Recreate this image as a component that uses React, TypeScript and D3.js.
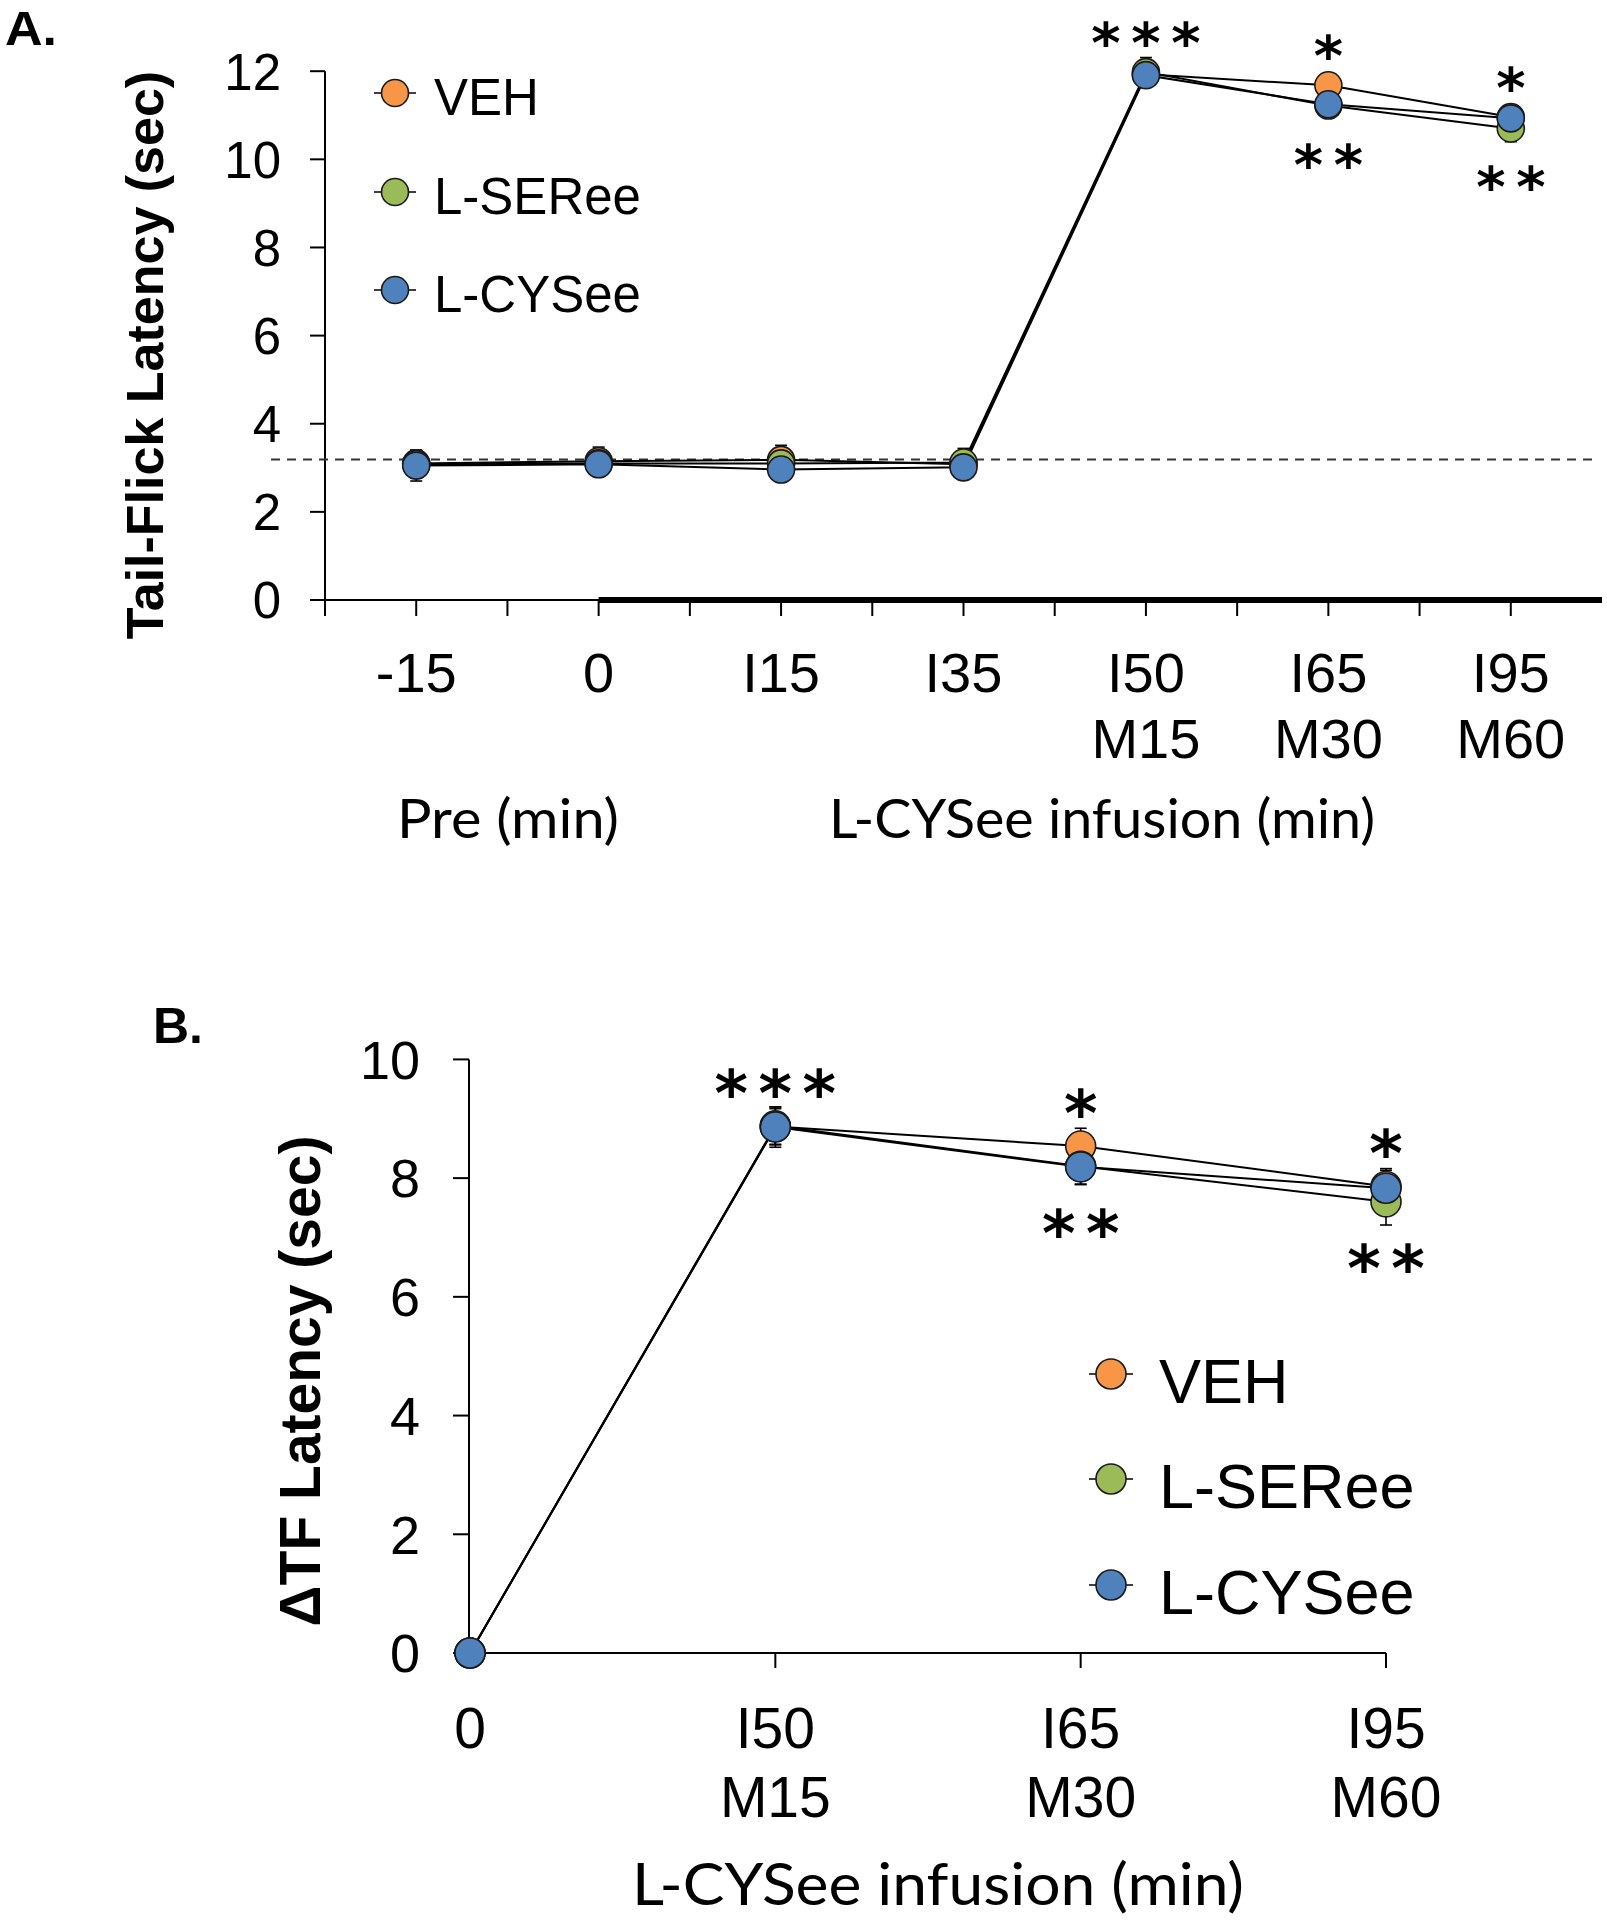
import React from 'react';
import * as d3 from 'd3';

const W = 1607;
const H = 1920;

// ---------- shared ----------
const seriesNames = ['VEH', 'L-SERee', 'L-CYSee'];
const seriesColors = ['#F79646', '#9BBB59', '#4F81BD'];

// ---------- Panel A ----------
const catsA = ['-15', '0', 'I15', 'I35', 'I50', 'I65', 'I95'];
const catsA2 = ['', '', '', '', 'M15', 'M30', 'M60'];
const vehA = [3.1, 3.15, 3.18, 3.08, 11.93, 11.68, 10.96];
const serA = [3.08, 3.1, 3.1, 3.12, 11.98, 11.22, 10.7];
const cysA = [3.05, 3.08, 2.96, 3.01, 11.91, 11.25, 10.93];
const vehAErr = [0.3, 0.32, 0.33, 0.25, 0.2, 0.2, 0.25];
const serAErr = [0.3, 0.28, 0.3, 0.32, 0.33, 0.2, 0.3];
const cysAErr = [0.35, 0.25, 0.25, 0.2, 0.2, 0.2, 0.2];
const baselineA = 3.19;
const yTicksA = [0, 2, 4, 6, 8, 10, 12];
const starsAboveA = [0, 0, 0, 0, 3, 1, 1];
const starsBelowA = [0, 0, 0, 0, 0, 2, 2];
const groupTitlesA = ['Pre (min)', 'L-CYSee infusion (min)'];

// ---------- Panel B ----------
const catsB = ['0', 'I50', 'I65', 'I95'];
const catsB2 = ['', 'M15', 'M30', 'M60'];
const vehB = [0, 8.87, 8.54, 7.86];
const serB = [0, 8.88, 8.2, 7.6];
const cysB = [0, 8.86, 8.19, 7.83];
const vehBErr = [0, 0.3, 0.3, 0.3];
const serBErr = [0, 0.32, 0.3, 0.39];
const cysBErr = [0, 0.34, 0.3, 0.3];
const yTicksB = [0, 2, 4, 6, 8, 10];
const starsAboveB = [0, 3, 1, 1];
const starsBelowB = [0, 0, 2, 2];
const titleB = 'L-CYSee infusion (min)';

const ARIAL = "'Liberation Sans', Arial, sans-serif";
const CAL = "Lato, 'Liberation Sans', sans-serif";
const STAR = "'DejaVu Sans', sans-serif";

type PanelProps = {
  cats: string[];
  series: number[][];
  errs: number[][];
  x: d3.ScalePoint<string>;
  y: d3.ScaleLinear<number, number>;
  r: number;
  above: number[];
  below: number[];
  aboveOff: number;
  belowOff: number;
  starSize: number;
  starPitch: number;
};

function Marks(p: PanelProps) {
  const line = d3
    .line<number>()
    .x((_, i) => p.x(p.cats[i]) as number)
    .y((d) => p.y(d));
  return (
    <g>
      {p.series.map((vals, s) => (
        <g key={'e' + s}>
          {vals.map((v, i) => {
            const e = p.errs[s][i];
            if (!e) return null;
            const cx = p.x(p.cats[i]) as number;
            return (
              <g key={i} stroke="#000" strokeWidth={1.6}>
                <line x1={cx} x2={cx} y1={p.y(v - e)} y2={p.y(v + e)} />
                <line x1={cx - 6} x2={cx + 6} y1={p.y(v - e)} y2={p.y(v - e)} />
                <line x1={cx - 6} x2={cx + 6} y1={p.y(v + e)} y2={p.y(v + e)} />
              </g>
            );
          })}
        </g>
      ))}
      {p.series.map((vals, s) => (
        <path key={'l' + s} d={line(vals) || ''} fill="none" stroke="#000" strokeWidth={2} />
      ))}
      {p.series.map((vals, s) => (
        <g key={'m' + s}>
          {vals.map((v, i) => (
            <circle
              key={i}
              cx={p.x(p.cats[i]) as number}
              cy={p.y(v)}
              r={p.r}
              fill={seriesColors[s]}
              stroke="#1a1a1a"
              strokeWidth={1.6}
            />
          ))}
        </g>
      ))}
      {p.cats.map((c, i) => {
        const cx = p.x(c) as number;
        const vs = p.series.map((s) => s[i]);
        const top = p.y(d3.max(vs) as number) - p.aboveOff;
        const bot = p.y(d3.min(vs) as number) + p.belowOff;
        const out: any[] = [];
        const mk = (n: number, cy: number, key: string) => {
          for (let k = 0; k < n; k++) {
            const sx = cx + (k - (n - 1) / 2) * p.starPitch;
            out.push(
              <text
                key={key + k}
                x={sx}
                y={cy + p.starSize * 0.5}
                textAnchor="middle"
                fontFamily={STAR}
                fontWeight="bold"
                fontSize={p.starSize}
                fill="#000"
              >
                *
              </text>
            );
          }
        };
        mk(p.above[i], top, 'a' + i);
        mk(p.below[i], bot, 'b' + i);
        return <g key={'s' + i}>{out}</g>;
      })}
    </g>
  );
}

function Legend({ x, ys, r, fs, textX, lineHalf, dy }: any) {
  return (
    <g>
      {seriesNames.map((n, i) => (
        <g key={n}>
          <line x1={x - lineHalf} x2={x + lineHalf} y1={ys[i]} y2={ys[i]} stroke="#000" strokeWidth={1.6} />
          <circle cx={x} cy={ys[i]} r={r} fill={seriesColors[i]} stroke="#1a1a1a" strokeWidth={1.6} />
          <text x={textX} y={ys[i] + dy} fontFamily={ARIAL} fontSize={fs} fill="#000">
            {n}
          </text>
        </g>
      ))}
    </g>
  );
}

export default function App() {
  // ----- Panel A scales -----
  const xA = d3.scalePoint<string>().domain(catsA).range([325, 1602]).padding(0.5);
  const yA = d3.scaleLinear().domain([0, 12]).range([600, 71.2]);
  const stepA = xA.step();
  const tickXsA: number[] = [];
  catsA.forEach((c) => {
    const cx = xA(c) as number;
    tickXsA.push(cx - stepA / 2, cx);
  });

  // ----- Panel B scales -----
  const xB = d3.scalePoint<string>().domain(catsB).range([470, 1386]).padding(0);
  const yB = d3.scaleLinear().domain([0, 10]).range([1653, 1059.4]);

  const yAxA = 325;
  const yAxB = 469;

  return (
    <svg
      width={W}
      height={H}
      viewBox={`0 0 ${W} ${H}`}
      style={{ position: 'absolute', left: 0, top: 0, display: 'block', background: '#fff' }}
    >
      <rect x={0} y={0} width={W} height={H} fill="#fff" />

      {/* ================= Panel A ================= */}
      <text x={5} y={45} fontFamily={ARIAL} fontWeight="bold" fontSize={49} fill="#000" textLength={52} lengthAdjust="spacingAndGlyphs">
        A.
      </text>

      {/* y axis */}
      <line x1={yAxA} x2={yAxA} y1={yA(12)} y2={yA(0)} stroke="#000" strokeWidth={2} />
      {yTicksA.map((t) => (
        <g key={t}>
          <line x1={yAxA - 15} x2={yAxA} y1={yA(t)} y2={yA(t)} stroke="#000" strokeWidth={2} />
          <text x={281} y={yA(t) + 18.3} textAnchor="end" fontFamily={ARIAL} fontSize={51} fill="#000">
            {t}
          </text>
        </g>
      ))}
      <text
        transform="translate(163,355) rotate(-90)"
        textAnchor="middle"
        fontFamily={ARIAL}
        fontWeight="bold"
        fontSize={52}
        fill="#000"
      >
        Tail-Flick Latency (sec)
      </text>

      {/* x axis */}
      <line x1={yAxA} x2={1602} y1={yA(0)} y2={yA(0)} stroke="#000" strokeWidth={2} />
      <line x1={xA('0') as number} x2={1602} y1={yA(0)} y2={yA(0)} stroke="#000" strokeWidth={6} />
      {tickXsA.map((tx, i) => (
        <line key={i} x1={tx} x2={tx} y1={yA(0)} y2={yA(0) + 16} stroke="#000" strokeWidth={2} />
      ))}
      {catsA.map((c, i) => (
        <g key={c}>
          <text x={xA(c) as number} y={692} textAnchor="middle" fontFamily={ARIAL} fontSize={56} fill="#000">
            {c}
          </text>
          {catsA2[i] && (
            <text x={xA(c) as number} y={758} textAnchor="middle" fontFamily={ARIAL} fontSize={56} fill="#000">
              {catsA2[i]}
            </text>
          )}
        </g>
      ))}
      <text x={508} y={838} textAnchor="middle" fontFamily={CAL} fontSize={54} fill="#000" textLength={222} lengthAdjust="spacingAndGlyphs">
        {groupTitlesA[0]}
      </text>
      <text x={1102} y={838} textAnchor="middle" fontFamily={CAL} fontSize={54} fill="#000" textLength={546} lengthAdjust="spacingAndGlyphs">
        {groupTitlesA[1]}
      </text>

      {/* baseline dashed */}
      <line x1={271} x2={1593} y1={yA(baselineA)} y2={yA(baselineA)} stroke="#333" strokeWidth={2} strokeDasharray="9,7" />

      <Marks
        cats={catsA}
        series={[vehA, serA, cysA]}
        errs={[vehAErr, serAErr, cysAErr]}
        x={xA}
        y={yA}
        r={13.5}
        above={starsAboveA}
        below={starsBelowA}
        aboveOff={38}
        belowOff={50}
        starSize={56}
        starPitch={40}
      />

      <Legend x={395} ys={[93, 192, 290]} r={13.5} fs={51} textX={434} lineHalf={21} dy={22} />

      {/* ================= Panel B ================= */}
      <text x={153} y={1043} fontFamily={ARIAL} fontWeight="bold" fontSize={50} fill="#000" textLength={50} lengthAdjust="spacingAndGlyphs">
        B.
      </text>

      <line x1={yAxB} x2={yAxB} y1={yB(10)} y2={yB(0)} stroke="#000" strokeWidth={2} />
      {yTicksB.map((t) => (
        <g key={t}>
          <line x1={yAxB - 16} x2={yAxB} y1={yB(t)} y2={yB(t)} stroke="#000" strokeWidth={2} />
          <text x={420} y={yB(t) + 19.3} textAnchor="end" fontFamily={ARIAL} fontSize={54} fill="#000">
            {t}
          </text>
        </g>
      ))}
      <text
        transform="translate(320,1381) rotate(-90)"
        textAnchor="middle"
        fontFamily={ARIAL}
        fontWeight="bold"
        fontSize={57}
        fill="#000"
      >
        ΔTF Latency (sec)
      </text>

      <line x1={yAxB} x2={xB('I95') as number} y1={yB(0)} y2={yB(0)} stroke="#000" strokeWidth={2} />
      {catsB.map((c, i) => (
        <g key={c}>
          <line x1={xB(c) as number} x2={xB(c) as number} y1={yB(0)} y2={yB(0) + 15} stroke="#000" strokeWidth={2} />
          <text x={xB(c) as number} y={1748} textAnchor="middle" fontFamily={ARIAL} fontSize={57} fill="#000">
            {c}
          </text>
          {catsB2[i] && (
            <text x={xB(c) as number} y={1817} textAnchor="middle" fontFamily={ARIAL} fontSize={57} fill="#000">
              {catsB2[i]}
            </text>
          )}
        </g>
      ))}
      <text x={938} y={1905} textAnchor="middle" fontFamily={CAL} fontSize={58} fill="#000" textLength={612} lengthAdjust="spacingAndGlyphs">
        {titleB}
      </text>

      <Marks
        cats={catsB}
        series={[vehB, serB, cysB]}
        errs={[vehBErr, serBErr, cysBErr]}
        x={xB}
        y={yB}
        r={15}
        above={starsAboveB}
        below={starsBelowB}
        aboveOff={42}
        belowOff={57}
        starSize={64}
        starPitch={44}
      />

      <Legend x={1111} ys={[1374, 1479, 1585]} r={15} fs={63} textX={1159} lineHalf={22} dy={29} />
    </svg>
  );
}
